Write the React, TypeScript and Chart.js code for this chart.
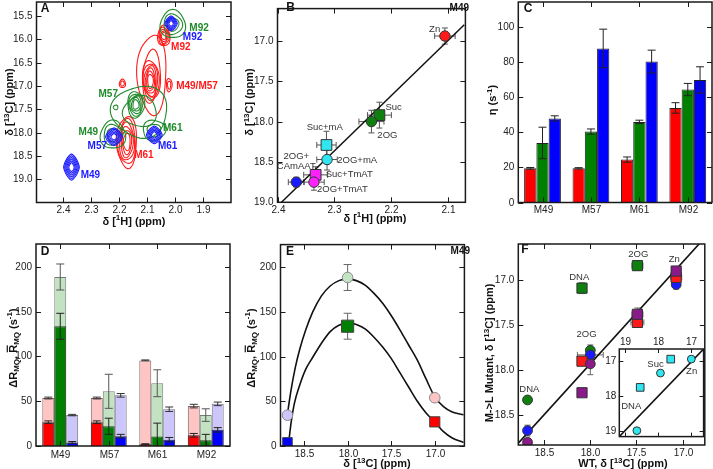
import React, { useEffect, useRef } from "react";
import { Chart, registerables } from "chart.js";
Chart.register(...registerables);

const FONT = "'Liberation Sans', Arial, Helvetica, sans-serif";
Chart.defaults.font.family = FONT;

// ---------------- DATA ----------------
const residues = ["M49", "M57", "M61", "M92"];

// Panel A: HSQC peaks [1H ppm, 13C ppm, half-width 1H, half-width 13C, contour levels]
const aRedPeaks = [
  [2.040, 15.93, 0.022, 0.22, 5],
  [2.088, 16.90, 0.030, 0.45, 6],
  [2.082, 16.75, 0.052, 0.85, 2],
  [2.188, 16.95, 0.011, 0.09, 2],
  [2.021, 16.98, 0.010, 0.14, 2],
  [2.172, 18.20, 0.036, 0.55, 6],
];
const aGreenPeaks = [
  [2.008, 15.68, 0.045, 0.30, 3],
  [2.140, 17.40, 0.030, 0.28, 5],
  [2.125, 17.55, 0.100, 0.55, 2],
  [2.222, 18.05, 0.045, 0.30, 3],
  [2.075, 17.95, 0.040, 0.22, 2],
  [2.212, 17.46, 0.008, 0.05, 1],
];
const aBluePeaks = [
  [2.014, 15.66, 0.022, 0.16, 5],
  [2.218, 18.09, 0.030, 0.19, 5],
  [2.074, 18.05, 0.028, 0.19, 5],
  [2.370, 18.74, 0.028, 0.28, 6],
];
const aTicksH = [2.4, 2.3, 2.2, 2.1, 2.0, 1.9];
const aTicksC = [15.5, 16.0, 16.5, 17.0, 17.5, 18.0, 18.5, 19.0];

// Panel B
const bLabels = ["Zn", "Suc", "2OG", "Suc+mA", "2OG+mA", "Suc+TmAT", "2OG+TmAT", "2OG+CAmAAT"];
const bH = [2.106, 2.221, 2.235, 2.314, 2.313, 2.333, 2.336, 2.367];
const bC = [16.94, 17.92, 18.0, 18.29, 18.47, 18.66, 18.75, 18.75];
const bHErr = [0.018, 0.021, 0.022, 0.017, 0.018, 0.021, 0.018, 0.014];
const bCErr = [0.1, 0.16, 0.14, 0.17, 0.13, 0.1, 0.1, 0.06];
const bFitH = [2.393, 2.072];
const bFitC = [19.0, 16.8];
const bTicksH = [2.4, 2.3, 2.2, 2.1];
const bTicksC = [17.0, 17.5, 18.0, 18.5, 19.0];

// Panel C: eta (s-1)
const cRed = [19.5, 19.5, 24.5, 54];
const cRedErr = [0.5, 0.4, 1.5, 3];
const cGreen = [34, 40.5, 46, 64.5];
const cGreenErr = [9, 1.5, 1, 3.5];
const cBlue = [48, 88, 80.5, 70];
const cBlueErr = [1.5, 11, 6.5, 7.5];
const cTicks = [0, 20, 40, 60, 80, 100];

// Panel D: dR_MQ (dark) and mean R_MQ (light)
const dRedDelta = [26.5, 26.5, 2, 12];
const dRedDeltaErr = [1.5, 1.5, 0.5, 2];
const dGreenDelta = [133.5, 22, 10.5, 6.5];
const dGreenDeltaErr = [14.5, 9, 15, 6.5];
const dBlueDelta = [4, 11, 7, 18];
const dBlueDeltaErr = [1, 2, 2.5, 2.5];
const dRedMean = [53.5, 53.5, 95.5, 44.5];
const dRedMeanErr = [1, 1, 0.5, 2];
const dGreenMean = [188.5, 61, 70, 34.5];
const dGreenMeanErr = [14.5, 19, 15, 7];
const dBlueMean = [34.5, 56.5, 41, 47];
const dBlueMeanErr = [0.8, 2, 2.5, 2];
const dTicks = [0, 50, 100, 150, 200];

// Panel E
const eShift = [18.69, 18.0, 17.0];
const eMean = [34.5, 188.5, 54];
const eMeanErr = [0, 14.5, 0];
const eDelta = [4, 134, 27];
const eDeltaErr = [0, 14.5, 0];
const eUpperX = [18.69, 18.65, 18.6, 18.55, 18.48, 18.4, 18.3, 18.2, 18.1, 18.0, 17.9, 17.8, 17.7, 17.6, 17.5, 17.4, 17.3, 17.2, 17.1, 17.0, 16.9, 16.8, 16.67];
const eUpperY = [36, 62, 88, 108, 130, 150, 168, 179, 185, 187, 185, 180, 171, 160, 146, 130, 113, 96, 75, 55, 44, 38, 35];
const eLowerX = [18.68, 18.65, 18.61, 18.55, 18.48, 18.42, 18.3, 18.2, 18.1, 18.0, 17.9, 17.8, 17.7, 17.6, 17.5, 17.4, 17.3, 17.2, 17.1, 17.0, 16.9, 16.8, 16.67];
const eLowerY = [0, 25, 48, 68, 86, 96, 115, 128, 135, 138, 136, 131, 122, 111, 98, 82, 66, 50, 37, 27, 16, 9, 4];
const eTicksX = [18.5, 18.0, 17.5, 17.0];

// Panel F: WT vs M->L mutant 13C shifts
const fGreenCircWT = [18.68, 18.0];
const fGreenCircMut = [18.33, 17.78];
const fGreenCircWTErr = [0.04, 0.03];
const fGreenCircMutErr = [0.04, 0.06];
const fGreenSqWT = [18.09, 17.49];
const fGreenSqMut = [17.09, 16.84];
const fGreenSqWTErr = [0.04, 0.06];
const fGreenSqMutErr = [0.06, 0.05];
const fBlueCircWT = [18.68, 18.0, 17.07];
const fBlueCircMut = [18.67, 17.83, 17.05];
const fBlueCircWTErr = [0.02, 0.14, 0.03];
const fBlueCircMutErr = [0.06, 0.04, 0.05];
const fRedSqWT = [18.09, 17.49, 17.07];
const fRedSqMut = [17.9, 17.47, 16.97];
const fRedSqWTErr = [0.05, 0.07, 0.06];
const fRedSqMutErr = [0.04, 0.04, 0.04];
const fPurpleCircWT = [18.68, 18.0];
const fPurpleCircMut = [18.8, 17.93];
const fPurpleCircWTErr = [0.02, 0.03];
const fPurpleCircMutErr = [0.03, 0.12];
const fPurpleSqWT = [18.09, 17.49, 17.07];
const fPurpleSqMut = [18.25, 17.38, 16.9];
const fPurpleSqWTErr = [0.04, 0.06, 0.05];
const fPurpleSqMutErr = [0.04, 0.07, 0.05];
const fDiagWT = [18.78, 16.76];
const fDiagMut = [18.81, 16.53];
const fTicksX = [18.5, 18.0, 17.5, 17.0];
const fTicksY = [17.0, 17.5, 18.0, 18.5];

// Inset of F
const iSqWT = [17.62, 18.54];
const iSqMut = [16.94, 17.75];
const iCircWT = [17.0, 17.93, 18.64];
const iCircMut = [16.94, 17.34, 18.99];
const iDiagWT = [19.17, 16.63];
const iDiagMut = [19.16, 16.65];
const iTicks = [19, 18, 17];

// ---------------- HELPERS ----------------
const pts = (xs: number[], ys: number[]) => xs.map((x, i) => ({ x, y: ys[i] }));

function linAxis(o: any) {
  return {
    type: "linear",
    display: false,
    min: o.min,
    max: o.max,
    reverse: !!o.reverse,
    bounds: "data",
    stacked: o.stacked,
    afterBuildTicks: (s: any) => {
      s.ticks = o.ticks.map((v: number) => ({ value: v }));
    },
  };
}

function catAxis(stacked?: boolean) {
  return { type: "category", display: false, stacked: !!stacked };
}

function drawRich(ctx: any, src: string, x: number, y: number, rotate: boolean, size = 11, bold = true, color = "#111") {
  const parts: { t: string; k: string }[] = [];
  const re = /\^\{([^}]*)\}|_\{([^}]*)\}|\\bar\{([^}]*)\}/g;
  let last = 0;
  let m: any;
  while ((m = re.exec(src))) {
    if (m.index > last) parts.push({ t: src.slice(last, m.index), k: "n" });
    if (m[1] !== undefined) parts.push({ t: m[1], k: "sup" });
    else if (m[2] !== undefined) parts.push({ t: m[2], k: "sub" });
    else parts.push({ t: m[3], k: "bar" });
    last = re.lastIndex;
  }
  if (last < src.length) parts.push({ t: src.slice(last), k: "n" });
  const small = Math.round(size * 0.72);
  const font = (s: number) => `${bold ? "bold " : ""}${s}px ${FONT}`;
  ctx.save();
  ctx.translate(x, y);
  if (rotate) ctx.rotate(-Math.PI / 2);
  let total = 0;
  const widths = parts.map((p) => {
    ctx.font = font(p.k === "sup" || p.k === "sub" ? small : size);
    const w = ctx.measureText(p.t).width;
    total += w;
    return w;
  });
  let cx = -total / 2;
  ctx.fillStyle = color;
  ctx.textBaseline = "middle";
  ctx.textAlign = "left";
  parts.forEach((p, i) => {
    const sm = p.k === "sup" || p.k === "sub";
    ctx.font = font(sm ? small : size);
    const dy = p.k === "sup" ? -size * 0.33 : p.k === "sub" ? size * 0.3 : 0;
    ctx.fillText(p.t, cx, dy);
    if (p.k === "bar") ctx.fillRect(cx + 0.5, -size * 0.62, widths[i] - 1, 1.2);
    cx += widths[i];
  });
  ctx.restore();
}

function titlePlugin(titles: any[]) {
  return {
    id: "titles",
    afterDraw(chart: any) {
      titles.forEach((t) => drawRich(chart.ctx, t.text, t.x, t.y, !!t.rotate, t.size || 11, t.bold !== false));
    },
  };
}

function textPlugin(anns: any[]) {
  return {
    id: "texts",
    afterDatasetsDraw(chart: any) {
      const ctx = chart.ctx;
      anns.forEach((a) => {
        const X = a.px ? a.x : chart.scales.x.getPixelForValue(a.x);
        const Y = a.px ? a.y : chart.scales.y.getPixelForValue(a.y);
        ctx.save();
        ctx.font = `${a.bold ? "bold " : ""}${a.size || 10}px ${FONT}`;
        ctx.fillStyle = a.color || "#222";
        ctx.textAlign = a.align || "center";
        ctx.textBaseline = "middle";
        ctx.fillText(a.text, X, Y);
        ctx.restore();
      });
    },
  };
}

// Frame, inward ticks, and tick labels (axes themselves are hidden so the plot area is exact)
function framePlugin(o: any) {
  const tickLen = o.tickLen ?? 5;
  return {
    id: "frame",
    afterDraw(chart: any) {
      const { ctx, chartArea: a } = chart;
      const xs = chart.scales.x;
      const ys = chart.scales.y;
      ctx.save();
      ctx.strokeStyle = "#1a1a1a";
      ctx.lineWidth = 1;
      ctx.beginPath();
      const xp: number[] = [];
      const yp: number[] = [];
      xs.ticks.forEach((_: any, i: number) => {
        const p = Math.round(xs.getPixelForTick(i)) + 0.5;
        xp.push(p);
        ctx.moveTo(p, a.bottom);
        ctx.lineTo(p, a.bottom - tickLen);
        ctx.moveTo(p, a.top);
        ctx.lineTo(p, a.top + tickLen);
      });
      ys.ticks.forEach((_: any, i: number) => {
        const p = Math.round(ys.getPixelForTick(i)) + 0.5;
        yp.push(p);
        ctx.moveTo(a.left, p);
        ctx.lineTo(a.left + tickLen, p);
        ctx.moveTo(a.right, p);
        ctx.lineTo(a.right - tickLen, p);
      });
      ctx.stroke();
      ctx.lineWidth = 1.5;
      ctx.strokeRect(a.left, a.top, a.right - a.left, a.bottom - a.top);
      // labels
      ctx.fillStyle = "#222";
      ctx.font = `${o.size || 10}px ${FONT}`;
      ctx.textAlign = "center";
      xs.ticks.forEach((t: any, i: number) => {
        const txt = o.xLabels ? o.xLabels[i] : Number(t.value).toFixed(o.xDec);
        if (o.xTop) {
          ctx.textBaseline = "bottom";
          ctx.fillText(txt, xp[i], a.top - (o.xPad ?? 2));
        } else {
          ctx.textBaseline = "top";
          ctx.fillText(txt, xp[i], a.bottom + (o.xPad ?? 3));
        }
      });
      ctx.textAlign = "right";
      ctx.textBaseline = "middle";
      ys.ticks.forEach((t: any, i: number) => {
        ctx.fillText(Number(t.value).toFixed(o.yDec), a.left - (o.yPad ?? 4), yp[i]);
      });
      ctx.restore();
    },
  };
}

function errPlugin(specs: any[], front: boolean) {
  const draw = (chart: any) => {
    const { ctx, chartArea: a } = chart;
    const xs = chart.scales.x;
    const ys = chart.scales.y;
    ctx.save();
    ctx.beginPath();
    ctx.rect(a.left, a.top, a.right - a.left, a.bottom - a.top);
    ctx.clip();
    specs.forEach((s) => {
      const meta = chart.getDatasetMeta(s.ds);
      const data = chart.data.datasets[s.ds].data;
      meta.data.forEach((el: any, i: number) => {
        const d = data[i];
        const yv = typeof d === "number" ? d : d.y;
        const px = el.x;
        const py = ys.getPixelForValue(yv);
        ctx.strokeStyle = s.color;
        ctx.lineWidth = 1;
        ctx.beginPath();
        if (s.yErr && s.yErr[i]) {
          const y1 = ys.getPixelForValue(yv - s.yErr[i]);
          const y2 = ys.getPixelForValue(yv + s.yErr[i]);
          ctx.moveTo(px, y1);
          ctx.lineTo(px, y2);
          ctx.moveTo(px - s.cap, y1);
          ctx.lineTo(px + s.cap, y1);
          ctx.moveTo(px - s.cap, y2);
          ctx.lineTo(px + s.cap, y2);
        }
        if (s.xErr && s.xErr[i] && typeof d !== "number") {
          const x1 = xs.getPixelForValue(d.x - s.xErr[i]);
          const x2 = xs.getPixelForValue(d.x + s.xErr[i]);
          ctx.moveTo(x1, py);
          ctx.lineTo(x2, py);
          ctx.moveTo(x1, py - s.cap);
          ctx.lineTo(x1, py + s.cap);
          ctx.moveTo(x2, py - s.cap);
          ctx.lineTo(x2, py + s.cap);
        }
        ctx.stroke();
      });
    });
    ctx.restore();
  };
  return front ? { id: "errFront", afterDatasetsDraw: draw } : { id: "errBack", beforeDatasetsDraw: draw };
}

function contourPlugin(groups: any[]) {
  return {
    id: "contours",
    beforeDatasetsDraw(chart: any) {
      const { ctx, chartArea: a } = chart;
      const xs = chart.scales.x;
      const ys = chart.scales.y;
      ctx.save();
      ctx.beginPath();
      ctx.rect(a.left, a.top, a.right - a.left, a.bottom - a.top);
      ctx.clip();
      ctx.lineWidth = 1.1;
      groups.forEach((g) => {
        ctx.strokeStyle = g.color;
        g.peaks.forEach((pk: number[], idx: number) => {
          const [h, c, wh, wc, n] = pk;
          const cx = xs.getPixelForValue(h);
          const cy = ys.getPixelForValue(c);
          const rx = Math.abs(xs.getPixelForValue(h + wh) - cx);
          const ry = Math.abs(ys.getPixelForValue(c + wc) - cy);
          for (let k = 0; k < n; k++) {
            const f = 1 - (k * 0.8) / n;
            ctx.beginPath();
            for (let s = 0; s <= 80; s++) {
              const t = (s / 80) * Math.PI * 2;
              const co = Math.cos(t);
              const si = Math.sin(t);
              let ex = co;
              let ey = si;
              let wob = 1;
              if (g.shape === "diamond") {
                ex = Math.sign(co) * Math.pow(Math.abs(co), 1.4);
                ey = Math.sign(si) * Math.pow(Math.abs(si), 1.4);
              } else {
                wob = 1 + 0.07 * Math.sin(3 * t + k * 1.3 + idx * 2.1);
              }
              const X = cx + rx * f * ex * wob;
              const Y = cy + ry * f * ey * wob;
              if (s === 0) ctx.moveTo(X, Y);
              else ctx.lineTo(X, Y);
            }
            ctx.closePath();
            ctx.stroke();
          }
        });
      });
      ctx.restore();
    },
  };
}

const whiteAreaPlugin = {
  id: "whiteArea",
  beforeDraw(chart: any) {
    const { ctx, chartArea: a } = chart;
    ctx.save();
    ctx.fillStyle = "#fff";
    ctx.fillRect(a.left, a.top, a.right - a.left, a.bottom - a.top);
    ctx.restore();
  },
};

const baseOpts = (padding: any) => ({
  responsive: false,
  maintainAspectRatio: false,
  animation: false,
  layout: { padding },
  plugins: { legend: { display: false }, tooltip: { enabled: false } },
});

const RED = "#ff1a1a";
const GREEN = "#0f7f0f";
const BLUE = "#1a1aff";
const PURPLE = "#8a1a8a";
const CYAN = "#30e6f0";
const MAGENTA = "#ff22ff";

const YTITLE_C13 = "δ [^{13}C] (ppm)";
const YTITLE_R = "ΔR_{MQ}, \\bar{R}_{MQ} (s^{-1})";

// ---------------- CHART CONFIGS ----------------
function makeA() {
  return {
    type: "scatter",
    data: {
      datasets: [aRedPeaks, aGreenPeaks, aBluePeaks].map((pk) => ({
        data: pk.map((p) => ({ x: p[0], y: p[1] })),
        pointRadius: 0,
      })),
    },
    options: {
      ...baseOpts({ left: 36.5, top: 2, right: 4, bottom: 32.5 }),
      scales: {
        x: linAxis({ min: 1.8, max: 2.495, reverse: true, ticks: aTicksH }),
        y: linAxis({ min: 15.2, max: 19.5, reverse: true, ticks: aTicksC }),
      },
    },
    plugins: [
      contourPlugin([
        { peaks: aRedPeaks, color: RED, shape: "ellipse" },
        { peaks: aGreenPeaks, color: "#1f8a2a", shape: "ellipse" },
        { peaks: aBluePeaks, color: BLUE, shape: "diamond" },
      ]),
      textPlugin([
        { x: 1.949, y: 15.77, text: "M92", color: "#1f8a2a", bold: true, align: "left" },
        { x: 1.972, y: 15.95, text: "M92", color: BLUE, bold: true, align: "left" },
        { x: 2.014, y: 16.18, text: "M92", color: RED, bold: true, align: "left" },
        { x: 1.996, y: 17.0, text: "M49/M57", color: RED, bold: true, align: "left" },
        { x: 2.204, y: 17.18, text: "M57", color: "#1f8a2a", bold: true, align: "right" },
        { x: 2.275, y: 18.0, text: "M49", color: "#1f8a2a", bold: true, align: "right" },
        { x: 2.243, y: 18.29, text: "M57", color: BLUE, bold: true, align: "right" },
        { x: 2.043, y: 17.91, text: "M61", color: "#1f8a2a", bold: true, align: "left" },
        { x: 2.061, y: 18.29, text: "M61", color: BLUE, bold: true, align: "left" },
        { x: 2.146, y: 18.48, text: "M61", color: RED, bold: true, align: "left" },
        { x: 2.337, y: 18.91, text: "M49", color: BLUE, bold: true, align: "left" },
        { x: 45, y: 8.5, text: "A", bold: true, size: 12, px: true, color: "#111" },
      ]),
      framePlugin({ xDec: 1, yDec: 1 }),
      titlePlugin([
        { text: YTITLE_C13, x: 10, y: 102, rotate: true },
        { text: "δ [^{1}H] (ppm)", x: 134, y: 221.5 },
      ]),
    ],
  };
}

function makeB() {
  const shapes = ["circle", "rect", "circle", "rect", "circle", "rect", "circle", "circle"];
  const colors = [RED, GREEN, GREEN, CYAN, CYAN, MAGENTA, MAGENTA, BLUE];
  return {
    type: "scatter",
    data: {
      datasets: [
        {
          data: pts(bFitH, bFitC),
          showLine: true,
          pointRadius: 0,
          borderColor: "#111",
          borderWidth: 1.5,
          order: 2,
        },
        {
          data: pts(bH, bC),
          pointStyle: shapes,
          pointRadius: shapes.map((s) => (s === "rect" ? 7.6 : 5.2)),
          backgroundColor: colors,
          borderColor: "#333",
          borderWidth: 1,
          order: 1,
        },
      ],
    },
    options: {
      ...baseOpts({ left: 42.5, top: 1.5, right: 1.5, bottom: 32.7 }),
      scales: {
        x: linAxis({ min: 2.07, max: 2.4, reverse: true, ticks: bTicksH }),
        y: linAxis({ min: 16.6, max: 19.0, reverse: true, ticks: bTicksC }),
      },
    },
    plugins: [
      errPlugin([{ ds: 1, xErr: bHErr, yErr: bCErr, color: "#555", cap: 3 }], false),
      textPlugin([
        { x: 2.124, y: 16.86, text: bLabels[0], size: 9.5, color: "#333" },
        { x: 2.196, y: 17.83, text: bLabels[1], size: 9.5, color: "#333" },
        { x: 2.207, y: 18.17, text: bLabels[2], size: 9.5, color: "#333" },
        { x: 2.317, y: 18.07, text: bLabels[3], size: 9.5, color: "#333" },
        { x: 2.26, y: 18.48, text: bLabels[4], size: 9.5, color: "#333" },
        { x: 2.274, y: 18.66, text: bLabels[5], size: 9.5, color: "#333" },
        { x: 2.286, y: 18.84, text: bLabels[6], size: 9.5, color: "#333" },
        { x: 2.367, y: 18.43, text: "2OG+", size: 9.5, color: "#333" },
        { x: 2.367, y: 18.55, text: "CAmAAT", size: 9.5, color: "#333" },
        { x: 234, y: 8.5, text: "M49", bold: true, align: "right", px: true, color: "#111" },
        { x: 55.5, y: 8, text: "B", bold: true, size: 12, px: true, color: "#111" },
      ]),
      framePlugin({ xDec: 1, yDec: 1 }),
      titlePlugin([
        { text: YTITLE_C13, x: 15, y: 102, rotate: true },
        { text: "δ [^{1}H] (ppm)", x: 140, y: 218.5 },
      ]),
    ],
  };
}

function makeC() {
  const ds = (data: number[], color: string) => ({
    data,
    backgroundColor: color,
    borderColor: "#222",
    borderWidth: 1,
    barPercentage: 1,
    categoryPercentage: 0.76,
  });
  return {
    type: "bar",
    data: { labels: residues, datasets: [ds(cRed, "#ff0000"), ds(cGreen, "#008000"), ds(cBlue, "#0000ff")] },
    options: {
      ...baseOpts({ left: 45.3, top: 2, right: 1, bottom: 32.5 }),
      scales: {
        x: catAxis(),
        y: linAxis({ min: 0, max: 114.5, ticks: cTicks }),
      },
    },
    plugins: [
      errPlugin(
        [
          { ds: 0, yErr: cRedErr, color: "#222", cap: 4 },
          { ds: 1, yErr: cGreenErr, color: "#222", cap: 4 },
          { ds: 2, yErr: cBlueErr, color: "#222", cap: 4 },
        ],
        true
      ),
      textPlugin([{ x: 55, y: 8.5, text: "C", bold: true, size: 12, px: true, color: "#111" }]),
      framePlugin({ xLabels: residues, yDec: 0 }),
      titlePlugin([{ text: "η (s^{-1})", x: 20, y: 100, rotate: true }]),
    ],
  };
}

function makeD() {
  const ds = (data: number[], color: string, border: string, stack: string, order: number) => ({
    data,
    backgroundColor: color,
    borderColor: border,
    borderWidth: 1,
    barPercentage: 1,
    categoryPercentage: 0.74,
    stack,
    order,
  });
  return {
    type: "bar",
    data: {
      labels: residues,
      datasets: [
        ds(dRedDelta, "#ff0000", "#333", "r", 1),
        ds(dGreenDelta, "#008000", "#333", "g", 1),
        ds(dBlueDelta, "#0000ff", "#333", "b", 1),
        ds(dRedMean, "#ffc4c4", "#806060", "r", 2),
        ds(dGreenMean, "#c2e2c2", "#708070", "g", 2),
        ds(dBlueMean, "#ccc6fa", "#707080", "b", 2),
      ],
    },
    options: {
      ...baseOpts({ left: 36, top: 9, right: 5, bottom: 23 }),
      scales: {
        x: catAxis(true),
        y: linAxis({ min: 0, max: 225.3, ticks: dTicks, stacked: false }),
      },
    },
    plugins: [
      errPlugin(
        [
          { ds: 3, yErr: dRedMeanErr, color: "#333", cap: 4 },
          { ds: 4, yErr: dGreenMeanErr, color: "#555", cap: 4 },
          { ds: 5, yErr: dBlueMeanErr, color: "#333", cap: 4 },
          { ds: 0, yErr: dRedDeltaErr, color: "#222", cap: 4 },
          { ds: 1, yErr: dGreenDeltaErr, color: "#222", cap: 4 },
          { ds: 2, yErr: dBlueDeltaErr, color: "#222", cap: 4 },
        ],
        true
      ),
      textPlugin([{ x: 45, y: 16.7, text: "D", bold: true, size: 12, px: true, color: "#111" }]),
      framePlugin({ xLabels: residues, yDec: 0, xPad: 4 }),
      titlePlugin([{ text: YTITLE_R, x: 13.5, y: 113, rotate: true }]),
    ],
  };
}

function makeE() {
  const line = (xs: number[], ys: number[]) => ({
    data: pts(xs, ys),
    showLine: true,
    pointRadius: 0,
    borderColor: "#111",
    borderWidth: 1.6,
    cubicInterpolationMode: "monotone",
    order: 3,
  });
  return {
    type: "scatter",
    data: {
      datasets: [
        line(eUpperX, eUpperY),
        line(eLowerX, eLowerY),
        {
          data: pts(eShift, eMean),
          pointStyle: "circle",
          pointRadius: 5.3,
          backgroundColor: ["#cdc8fb", "#c4e2c4", "#ffc4c4"],
          borderColor: "#888",
          borderWidth: 1,
          order: 1,
        },
        {
          data: pts(eShift, eDelta),
          pointStyle: "rect",
          pointRadius: [6.8, 8.6, 7.2],
          backgroundColor: ["#0000ff", "#008000", "#ff0000"],
          borderColor: "#444",
          borderWidth: 1,
          order: 1,
        },
      ],
    },
    options: {
      ...baseOpts({ left: 45.5, top: 9, right: 1, bottom: 23 }),
      scales: {
        x: linAxis({ min: 16.66, max: 18.77, reverse: true, ticks: eTicksX }),
        y: linAxis({ min: 0, max: 225.3, ticks: dTicks }),
      },
    },
    plugins: [
      errPlugin(
        [
          { ds: 2, yErr: eMeanErr, color: "#666", cap: 4 },
          { ds: 3, yErr: eDeltaErr, color: "#666", cap: 4 },
        ],
        false
      ),
      textPlugin([
        { x: 55, y: 16.7, text: "E", bold: true, size: 12, px: true, color: "#111" },
        { x: 235, y: 16.7, text: "M49", bold: true, align: "right", px: true, color: "#111" },
      ]),
      framePlugin({ xDec: 1, yDec: 0 }),
      titlePlugin([
        { text: YTITLE_R, x: 16.5, y: 113, rotate: true },
        { text: YTITLE_C13, x: 142, y: 229 },
      ]),
    ],
  };
}

function makeF() {
  const set = (xs: number[], ys: number[], shape: string, color: string, order: number) => ({
    data: pts(xs, ys),
    pointStyle: shape,
    pointRadius: shape === "rect" ? 7.2 : 4.9,
    backgroundColor: color,
    borderColor: "#333",
    borderWidth: 1,
    order,
  });
  return {
    type: "scatter",
    data: {
      datasets: [
        { data: pts(fDiagWT, fDiagMut), showLine: true, pointRadius: 0, borderColor: "#111", borderWidth: 1.6, order: 9 },
        set(fGreenCircWT, fGreenCircMut, "circle", GREEN, 4),
        set(fGreenSqWT, fGreenSqMut, "rect", GREEN, 4),
        set(fBlueCircWT, fBlueCircMut, "circle", BLUE, 3),
        set(fRedSqWT, fRedSqMut, "rect", RED, 2),
        set(fPurpleCircWT, fPurpleCircMut, "circle", PURPLE, 1),
        set(fPurpleSqWT, fPurpleSqMut, "rect", PURPLE, 1),
      ],
    },
    options: {
      ...baseOpts({ left: 45.3, top: 9, right: 1, bottom: 24 }),
      scales: {
        x: linAxis({ min: 16.76, max: 18.78, reverse: true, ticks: fTicksX }),
        y: linAxis({ min: 16.6, max: 18.83, reverse: true, ticks: fTicksY }),
      },
    },
    plugins: [
      errPlugin(
        [
          { ds: 1, xErr: fGreenCircWTErr, yErr: fGreenCircMutErr, color: "#666", cap: 3 },
          { ds: 2, xErr: fGreenSqWTErr, yErr: fGreenSqMutErr, color: "#666", cap: 3 },
          { ds: 3, xErr: fBlueCircWTErr, yErr: fBlueCircMutErr, color: "#666", cap: 3 },
          { ds: 4, xErr: fRedSqWTErr, yErr: fRedSqMutErr, color: "#666", cap: 3 },
          { ds: 5, xErr: fPurpleCircWTErr, yErr: fPurpleCircMutErr, color: "#666", cap: 3 },
          { ds: 6, xErr: fPurpleSqWTErr, yErr: fPurpleSqMutErr, color: "#666", cap: 3 },
        ],
        false
      ),
      textPlugin([
        { x: 18.66, y: 18.21, text: "DNA", size: 9.5, color: "#333" },
        { x: 18.12, y: 16.97, text: "DNA", size: 9.5, color: "#333" },
        { x: 18.04, y: 17.6, text: "2OG", size: 9.5, color: "#333" },
        { x: 17.48, y: 16.71, text: "2OG", size: 9.5, color: "#333" },
        { x: 17.09, y: 16.77, text: "Zn", size: 9.5, color: "#333" },
        { x: 52, y: 15, text: "F", bold: true, size: 12, px: true, color: "#111" },
      ]),
      framePlugin({ xDec: 1, yDec: 1 }),
      titlePlugin([
        { text: "M->L Mutant, " + YTITLE_C13, x: 17, y: 118, rotate: true },
        { text: "WT, " + YTITLE_C13, x: 150, y: 229 },
      ]),
    ],
  };
}

function makeInset() {
  return {
    type: "scatter",
    data: {
      datasets: [
        { data: pts(iDiagWT, iDiagMut), showLine: true, pointRadius: 0, borderColor: "#111", borderWidth: 1.6, order: 5 },
        { data: pts(iSqWT, iSqMut), pointStyle: "rect", pointRadius: 5.4, backgroundColor: CYAN, borderColor: "#333", borderWidth: 1, order: 1 },
        { data: pts(iCircWT, iCircMut), pointStyle: "circle", pointRadius: 3.9, backgroundColor: CYAN, borderColor: "#333", borderWidth: 1, order: 1 },
      ],
    },
    options: {
      ...baseOpts({ left: 17.3, top: 16, right: 3.3, bottom: 3 }),
      scales: {
        x: linAxis({ min: 16.63, max: 19.17, reverse: true, ticks: iTicks }),
        y: linAxis({ min: 16.65, max: 19.16, reverse: true, ticks: iTicks }),
      },
    },
    plugins: [
      whiteAreaPlugin,
      textPlugin([
        { x: 18.08, y: 17.09, text: "Suc", size: 9.5, color: "#333" },
        { x: 18.81, y: 18.28, text: "DNA", size: 9.5, color: "#333" },
        { x: 16.99, y: 17.28, text: "Zn", size: 9.5, color: "#333" },
      ]),
      framePlugin({ xDec: 0, yDec: 0, xTop: true, xPad: 2, yPad: 3, tickLen: 4 }),
    ],
  };
}

// ---------------- COMPONENTS ----------------
function ChartPanel({ left, top, width, height, make }: any) {
  const ref = useRef<HTMLCanvasElement>(null);
  useEffect(() => {
    const chart = new Chart(ref.current as any, make() as any);
    return () => chart.destroy();
  }, []);
  return (
    <canvas
      ref={ref}
      width={width}
      height={height}
      style={{ position: "absolute", left, top, width, height, display: "block" }}
    />
  );
}

export default function App() {
  useEffect(() => {
    document.body.style.margin = "0";
    document.body.style.background = "#fff";
  }, []);
  return (
    <div style={{ position: "relative", width: 713, height: 469, background: "#fff", overflow: "hidden" }}>
      <ChartPanel left={0} top={0} width={235} height={235} make={makeA} />
      <ChartPanel left={235} top={0} width={239} height={235} make={makeB} />
      <ChartPanel left={473} top={0} width={240} height={235} make={makeC} />
      <ChartPanel left={0} top={235} width={235} height={234} make={makeD} />
      <ChartPanel left={235} top={235} width={239} height={234} make={makeE} />
      <ChartPanel left={473} top={235} width={240} height={234} make={makeF} />
      <ChartPanel left={602} top={333} width={108} height={110} make={makeInset} />
    </div>
  );
}
